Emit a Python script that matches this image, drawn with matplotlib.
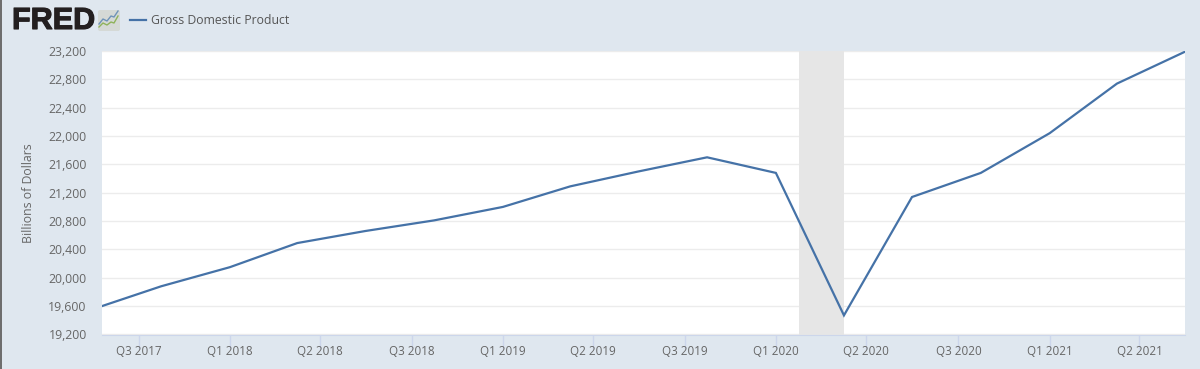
import pandas as pd
import matplotlib
matplotlib.use('Agg')
import matplotlib.pyplot as plt
import matplotlib.dates as mdates
import matplotlib.patheffects as pe
from matplotlib.patches import FancyBboxPatch, Rectangle
from matplotlib.ticker import FuncFormatter

# Values
quarters = ['2017-07-01', '2017-10-01', '2018-01-01', '2018-04-01', '2018-07-01', '2018-10-01',
            '2019-01-01', '2019-04-01', '2019-07-01', '2019-10-01', '2020-01-01', '2020-04-01',
            '2020-07-01', '2020-10-01', '2021-01-01', '2021-04-01', '2021-07-01']
gdp = [19555, 19880, 20150, 20490, 20660, 20810, 21000, 21290, 21500, 21700, 21480, 19470,
       21140, 21480, 22040, 22740, 23190]
tick_dates = ['2017-09-01', '2018-01-01', '2018-05-01', '2018-09-01', '2019-01-01', '2019-05-01',
              '2019-09-01', '2020-01-01', '2020-05-01', '2020-09-01', '2021-01-01', '2021-05-01']
tick_labels = ['Q3 2017', 'Q1 2018', 'Q2 2018', 'Q3 2018', 'Q1 2019', 'Q2 2019',
               'Q3 2019', 'Q1 2020', 'Q2 2020', 'Q3 2020', 'Q1 2021', 'Q2 2021']
recession = ['2020-02-01', '2020-04-01']
x_start = '2017-07-14'
y_ticks = list(range(19200, 23201, 400))

W, H = 1200, 369
BG = '#dfe7ef'
TEXT = '#666666'
LINE = '#4572a7'

plt.rcParams['font.family'] = ['Open Sans', 'DejaVu Sans']

fig = plt.figure(figsize=(W / 100, H / 100), dpi=100, facecolor=BG)
ax = fig.add_axes([102 / W, 1 - 334.5 / H, (1185 - 102) / W, (334.5 - 51) / H])

dates = pd.to_datetime(quarters)
ax.plot(dates, gdp, color=LINE, lw=1.6, solid_joinstyle='miter', zorder=3)
ax.axvspan(pd.Timestamp(recession[0]), pd.Timestamp(recession[1]), color='#e6e6e6', lw=0, zorder=1)

ax.set_xlim(pd.Timestamp(x_start), dates[-1])
ax.set_ylim(19200, 23200)
ax.set_yticks(y_ticks)
ax.yaxis.set_major_formatter(FuncFormatter(lambda v, _: f'{int(v):,}'))
ax.set_xticks(mdates.date2num(pd.to_datetime(tick_dates)))
ax.set_xticklabels(tick_labels)
ax.grid(axis='y', color='#ececec', lw=1)
ax.set_axisbelow(True)
for s in ['top', 'right', 'left']:
    ax.spines[s].set_visible(False)
ax.spines['bottom'].set_color('#ccd6eb')
ax.tick_params(axis='y', length=0, labelsize=8.85, labelcolor=TEXT, pad=11)
ax.tick_params(axis='x', length=10, width=1, color='#ccd6eb', labelsize=8.4, labelcolor=TEXT, pad=-2.5)
ax.set_ylabel('Billions of Dollars', fontsize=8.85, color=TEXT)
ax.yaxis.set_label_coords(-0.062, 0.5)

# Header: logo and legend, in pixel coordinates
hdr = fig.add_axes([0, 0, 1, 1], facecolor='none')
hdr.set_xlim(0, W)
hdr.set_ylim(H, 0)
hdr.axis('off')
hdr.add_patch(Rectangle((0, 0), 2, H, color='#6e6e6e', lw=0))
hdr.text(12, 21, 'FRED', family='Liberation Sans', weight='bold', fontsize=22, color='#231f20',
         va='center', ha='left', path_effects=[pe.withStroke(linewidth=0.8, foreground='#231f20')])
hdr.add_patch(FancyBboxPatch((98, 10), 22, 21, boxstyle='round,pad=0,rounding_size=2',
                             fc='#d5d9d6', ec='none'))
hdr.plot([99, 103, 107, 111, 114, 118], [24, 19, 21, 16, 17, 11], color='#6f93b8', lw=1)
hdr.plot([99, 103, 107, 111, 114, 118], [27, 23, 25, 22, 23, 16], color='#8fb35b', lw=1)
hdr.plot([130, 146], [20, 20], color=LINE, lw=1.6)
hdr.text(151, 20, 'Gross Domestic Product', fontsize=8.85, color='#555555', va='center', ha='left')

fig.savefig('out.png', dpi=100, facecolor=BG)
